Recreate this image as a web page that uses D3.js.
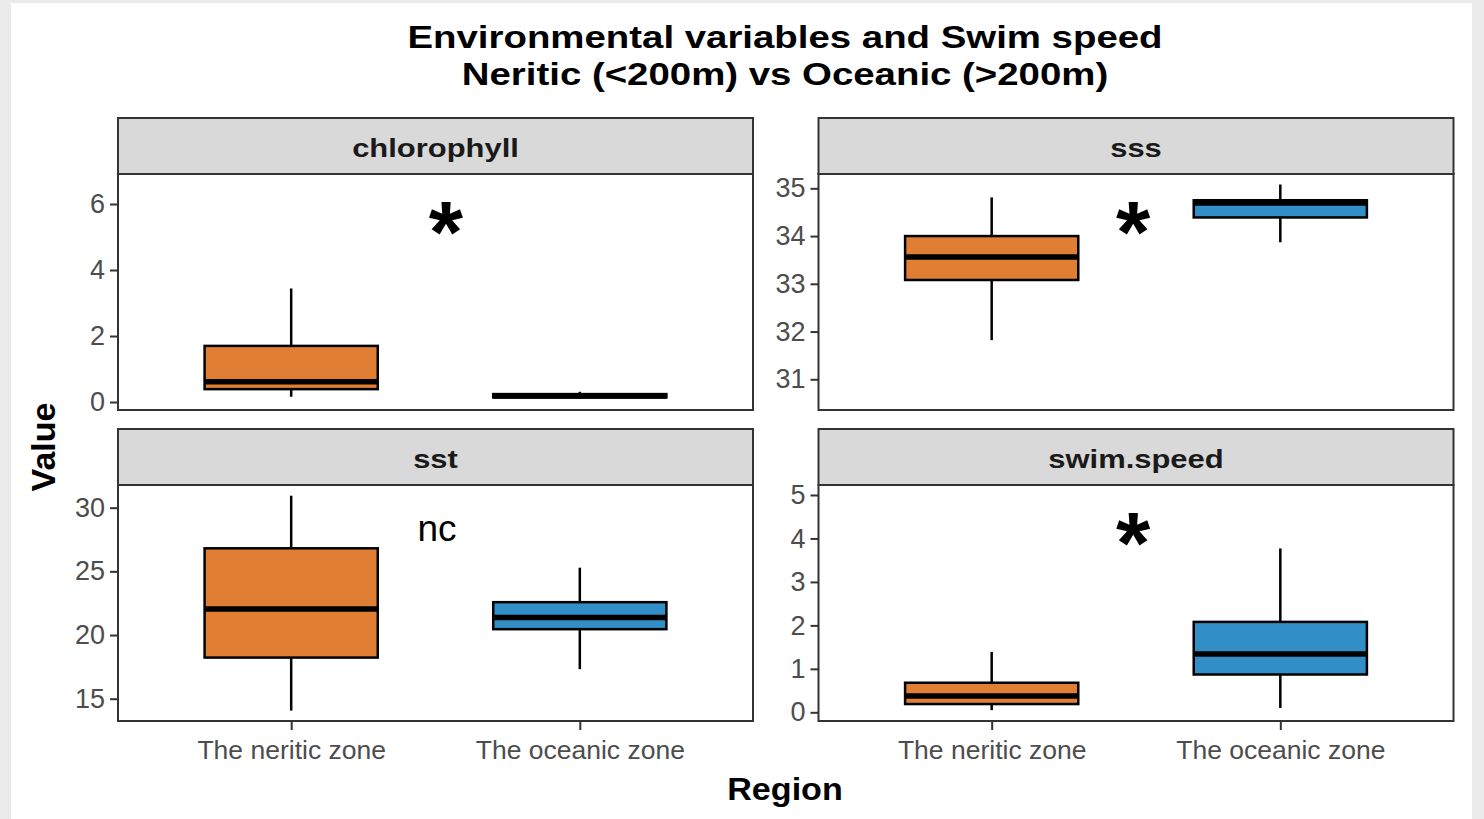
<!DOCTYPE html>
<html>
<head>
<meta charset="utf-8">
<script src="https://cdn.jsdelivr.net/npm/d3@7"></script>
<style>
  html, body { margin: 0; padding: 0; background: #ebebeb; }
  svg { display: block; }
  text { font-family: "Liberation Sans", Arial, sans-serif; }
</style>
</head>
<body>
<script>
// ---------- data ----------
const regions = ["The neritic zone", "The oceanic zone"];
const variables = ["chlorophyll", "sss", "sst", "swim.speed"];
const fillColors = ["#e07e34", "#318ec6"];

// five-number summaries per region: [lower whisker, Q1, median, Q3, upper whisker]
const chlorophyllStats = [[0.16, 0.39, 0.615, 1.70, 3.44], [0.10, 0.14, 0.18, 0.24, 0.31]];
const sssStats         = [[31.82, 33.08, 33.56, 34.00, 34.81], [33.87, 34.39, 34.69, 34.75, 35.08]];
const sstStats         = [[14.07, 18.23, 22.04, 26.81, 30.94], [17.32, 20.46, 21.37, 22.58, 25.29]];
const swimStats        = [[0.05, 0.19, 0.375, 0.68, 1.39], [0.10, 0.87, 1.34, 2.08, 3.77]];
const allStats = [chlorophyllStats, sssStats, sstStats, swimStats];

// y tick labels per panel
const chlorophyllTicks = [0, 2, 4, 6];
const sssTicks = [31, 32, 33, 34, 35];
const sstTicks = [15, 20, 25, 30];
const swimTicks = [0, 1, 2, 3, 4, 5];
const allTicks = [chlorophyllTicks, sssTicks, sstTicks, swimTicks];

// y axis limits per panel (free scales)
const yLimits = [[-0.242, 6.909], [30.357, 35.30], [13.25, 31.78], [-0.20, 5.23]];

// significance annotations: label, x position (category units), y value
const annotLabels = ["*", "*", "nc", "*"];
const annotX = [1.536, 1.49, 1.505, 1.49];
const annotY = [5.545, 34.37, 28.17, 4.19];

const titleLines = ["Environmental variables and Swim speed", "Neritic (<200m) vs Oceanic (>200m)"];
const xTitle = "Region";
const yTitle = "Value";

// ---------- layout ----------
const W = 1484, H = 819;
const colLeft = [118, 818];
const rowTop = [118, 429];
const pw = 635, stripH = 56, ph = 236;

const svg = d3.select("body").append("svg").attr("width", W).attr("height", H);
svg.append("rect").attr("width", W).attr("height", H).attr("fill", "#ebebeb");
svg.append("rect").attr("x", 11).attr("y", 3).attr("width", 1461).attr("height", H - 3).attr("fill", "#ffffff");

function stretchedText(g, x, y, str, size, weight, sx, anchor) {
  return g.append("text")
    .attr("transform", `translate(${x},${y}) scale(${sx},1)`)
    .attr("text-anchor", anchor || "middle")
    .attr("font-size", size)
    .attr("font-weight", weight)
    .attr("fill", "#000")
    .text(str);
}

// title
stretchedText(svg, 785, 48, titleLines[0], 32, "bold", 1.2);
stretchedText(svg, 785, 85, titleLines[1], 32, "bold", 1.2);

// axis titles
stretchedText(svg, 785, 800, xTitle, 31, "bold", 1.1);
svg.append("text")
  .attr("transform", "translate(55,447) rotate(-90)")
  .attr("text-anchor", "middle")
  .attr("font-size", 34)
  .attr("font-weight", "bold")
  .text(yTitle);

variables.forEach((v, i) => {
  const col = i % 2, row = Math.floor(i / 2);
  const left = colLeft[col] + (col === 1 ? 0.5 : 0);
  const top = rowTop[row];
  const g = svg.append("g").attr("transform", `translate(${left},${top + stripH})`);

  const x = d3.scalePoint().domain(regions).range([0, pw]).padding(0.6);
  const xCat = d3.scaleLinear().domain([0.4, 2.6]).range([0, pw]);
  const y = d3.scaleLinear().domain(yLimits[i]).range([ph, 0]);
  const bw = x.step() * 0.6;

  // panel background
  g.append("rect").attr("width", pw).attr("height", ph).attr("fill", "#fff");

  // y axis
  const ya = g.append("g").call(d3.axisLeft(y).tickValues(allTicks[i]).tickFormat(d3.format("d")).tickSize(8).tickPadding(5));
  ya.select(".domain").remove();
  ya.selectAll(".tick line").attr("stroke", "#333").attr("stroke-width", 2);
  ya.selectAll(".tick text").attr("font-size", 27).attr("fill", "#4d4d4d")
    .attr("font-family", "Liberation Sans, Arial, sans-serif");

  // x axis only on bottom row
  if (row === 1) {
    const xa = g.append("g").attr("transform", `translate(0,${ph})`)
      .call(d3.axisBottom(x).tickSize(9).tickPadding(10));
    xa.select(".domain").remove();
    xa.selectAll(".tick line").attr("stroke", "#333").attr("stroke-width", 2);
    xa.selectAll(".tick text").attr("font-size", 26.5).attr("fill", "#4d4d4d")
      .attr("font-family", "Liberation Sans, Arial, sans-serif");
  }

  // boxes
  const stats = allStats[i];
  regions.forEach((r, j) => {
    const s = stats[j];
    const cx = x(r);
    g.append("line").attr("x1", cx).attr("x2", cx).attr("y1", y(s[4])).attr("y2", y(s[3]))
      .attr("stroke", "#000").attr("stroke-width", 2.5);
    g.append("line").attr("x1", cx).attr("x2", cx).attr("y1", y(s[1])).attr("y2", y(s[0]))
      .attr("stroke", "#000").attr("stroke-width", 2.5);
    g.append("rect").attr("x", cx - bw / 2).attr("width", bw)
      .attr("y", y(s[3])).attr("height", Math.max(0.5, y(s[1]) - y(s[3])))
      .attr("fill", fillColors[j]).attr("stroke", "#000").attr("stroke-width", 2.5);
    g.append("line").attr("x1", cx - bw / 2).attr("x2", cx + bw / 2).attr("y1", y(s[2])).attr("y2", y(s[2]))
      .attr("stroke", "#000").attr("stroke-width", 5.5);
  });

  // annotation
  const lab = annotLabels[i];
  const isStar = lab === "*";
  g.append("text")
    .attr("x", xCat(annotX[i]))
    .attr("y", y(annotY[i]))
    .attr("dy", isStar ? "0.49em" : "0.26em")
    .attr("text-anchor", "middle")
    .attr("font-size", isStar ? 88 : 37)
    .attr("font-weight", isStar ? "bold" : "normal")
    .attr("fill", "#000")
    .text(lab);

  // panel border
  g.append("rect").attr("width", pw).attr("height", ph)
    .attr("fill", "none").attr("stroke", "#333").attr("stroke-width", 2);

  // strip
  const sg = svg.append("g").attr("transform", `translate(${left},${top})`);
  sg.append("rect").attr("width", pw).attr("height", stripH)
    .attr("fill", "#d9d9d9").attr("stroke", "#333").attr("stroke-width", 2);
  stretchedText(sg, pw / 2, 38.7, v, 26, "bold", 1.19).attr("fill", "#1a1a1a");
});
</script>
</body>
</html>
